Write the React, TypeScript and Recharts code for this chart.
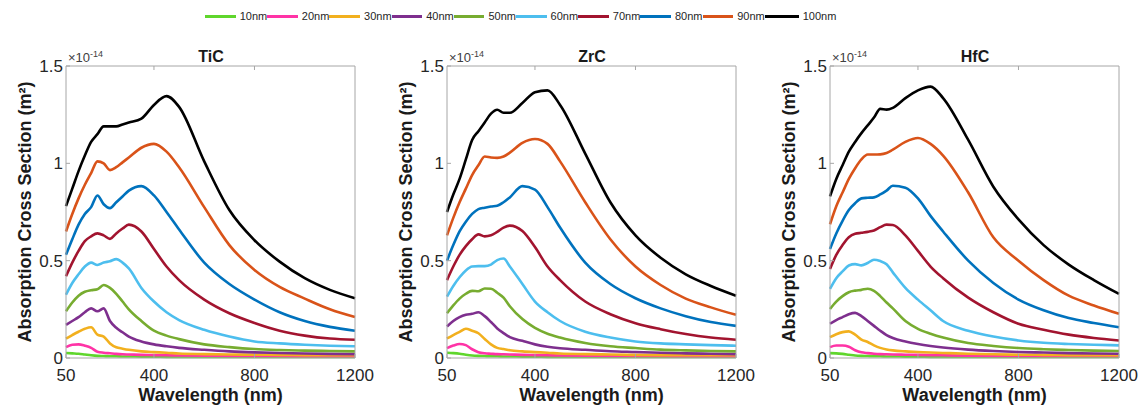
import React from 'react';
import { LineChart, Line, XAxis, YAxis } from 'recharts';

// wavelength grid (nm)
const wavelength = [50, 75, 100, 125, 150, 175, 200, 225, 250, 275, 300, 350, 400, 450, 500, 600, 700, 800, 900, 1000, 1100, 1200];

const sizes = ['10nm', '20nm', '30nm', '40nm', '50nm', '60nm', '70nm', '80nm', '90nm', '100nm'];
const colors = ['#5fd62c', '#ff33a6', '#f2b01e', '#7e2f8e', '#77ac30', '#4dbeee', '#a2142f', '#0072bd', '#d95319', '#000000'];

const xTicks = [50, 400, 800, 1200];
const yTicks = [0, 0.5, 1, 1.5];

// values in units of 1e-14 m^2
// TiC
const tic10 = [0.026, 0.024, 0.022, 0.018, 0.014, 0.011, 0.01, 0.009, 0.009, 0.008, 0.008, 0.007, 0.007, 0.006, 0.006, 0.006, 0.005, 0.005, 0.005, 0.005, 0.005, 0.005];
const tic20 = [0.056, 0.068, 0.07, 0.063, 0.052, 0.032, 0.027, 0.024, 0.021, 0.019, 0.018, 0.016, 0.015, 0.014, 0.013, 0.012, 0.011, 0.01, 0.01, 0.009, 0.009, 0.009];
const tic30 = [0.1, 0.118, 0.135, 0.15, 0.158, 0.12, 0.11, 0.075, 0.055, 0.048, 0.042, 0.034, 0.03, 0.027, 0.023, 0.02, 0.018, 0.017, 0.016, 0.015, 0.014, 0.014];
const tic40 = [0.17, 0.19, 0.21, 0.235, 0.255, 0.24, 0.255, 0.19, 0.155, 0.132, 0.11, 0.085, 0.07, 0.06, 0.052, 0.042, 0.034, 0.029, 0.026, 0.023, 0.021, 0.02];
const tic50 = [0.24, 0.285, 0.32, 0.34, 0.348, 0.353, 0.375, 0.36, 0.33, 0.29, 0.25, 0.19, 0.14, 0.115, 0.097, 0.07, 0.056, 0.046, 0.041, 0.038, 0.036, 0.034];
const tic60 = [0.325, 0.385, 0.43, 0.47, 0.49, 0.478, 0.49, 0.497, 0.508, 0.49, 0.46, 0.36, 0.29, 0.235, 0.195, 0.145, 0.11, 0.085, 0.075, 0.068, 0.063, 0.06];
const tic70 = [0.42, 0.49, 0.55, 0.6, 0.625, 0.64, 0.63, 0.612, 0.64, 0.665, 0.685, 0.65, 0.56, 0.47, 0.4, 0.3, 0.23, 0.18, 0.14, 0.115, 0.1, 0.094];
const tic80 = [0.53, 0.61, 0.685, 0.74, 0.775, 0.835, 0.79, 0.77, 0.8, 0.83, 0.86, 0.883, 0.835, 0.75, 0.66, 0.49, 0.38, 0.3, 0.235, 0.19, 0.16, 0.14];
const tic90 = [0.65, 0.74, 0.82, 0.89, 0.95, 1.01, 1.0, 0.965, 0.98, 1.005, 1.03, 1.08, 1.1, 1.06, 0.98, 0.775, 0.58, 0.452, 0.365, 0.305, 0.25, 0.21];
const tic100 = [0.78, 0.87, 0.96, 1.04, 1.11, 1.15, 1.19, 1.19, 1.19, 1.2, 1.21, 1.23, 1.3, 1.345, 1.29, 1.01, 0.76, 0.605, 0.495, 0.41, 0.35, 0.307];

// ZrC
const zrc10 = [0.027, 0.025, 0.022, 0.017, 0.013, 0.011, 0.01, 0.009, 0.009, 0.008, 0.008, 0.007, 0.007, 0.006, 0.006, 0.006, 0.005, 0.005, 0.005, 0.005, 0.005, 0.005];
const zrc20 = [0.051, 0.064, 0.072, 0.066, 0.045, 0.03, 0.024, 0.022, 0.02, 0.019, 0.018, 0.016, 0.015, 0.014, 0.013, 0.012, 0.011, 0.01, 0.01, 0.009, 0.009, 0.009];
const zrc30 = [0.1, 0.118, 0.134, 0.15, 0.14, 0.127, 0.098, 0.07, 0.052, 0.046, 0.04, 0.034, 0.03, 0.027, 0.023, 0.02, 0.018, 0.016, 0.015, 0.015, 0.014, 0.014];
const zrc40 = [0.162, 0.19, 0.21, 0.222, 0.227, 0.235, 0.215, 0.185, 0.152, 0.128, 0.107, 0.088, 0.07, 0.058, 0.05, 0.042, 0.035, 0.031, 0.027, 0.024, 0.022, 0.02];
const zrc50 = [0.23, 0.27, 0.305, 0.33, 0.345, 0.343, 0.357, 0.356, 0.335, 0.31, 0.266, 0.2, 0.155, 0.125, 0.105, 0.077, 0.06, 0.051, 0.043, 0.039, 0.036, 0.034];
const zrc60 = [0.315, 0.37, 0.415, 0.45, 0.47, 0.472, 0.472, 0.48, 0.503, 0.511, 0.47, 0.38, 0.29, 0.235, 0.19, 0.135, 0.105, 0.085, 0.075, 0.07, 0.066, 0.063];
const zrc70 = [0.4, 0.47, 0.53, 0.575, 0.61, 0.635, 0.625, 0.63, 0.648, 0.67, 0.68, 0.652, 0.57, 0.47, 0.4, 0.29, 0.225, 0.179, 0.148, 0.123, 0.105, 0.094];
const zrc80 = [0.5, 0.58, 0.65, 0.7, 0.74, 0.765, 0.772, 0.778, 0.782, 0.8, 0.825, 0.883, 0.865, 0.775, 0.67, 0.49, 0.38, 0.307, 0.255, 0.215, 0.185, 0.165];
const zrc90 = [0.63, 0.72, 0.8, 0.87, 0.94, 0.99, 1.035, 1.03, 1.028, 1.035, 1.055, 1.105, 1.125, 1.1, 1.01, 0.8, 0.61, 0.47, 0.375, 0.305, 0.26, 0.222];
const zrc100 = [0.75, 0.84, 0.92, 1.02, 1.12, 1.165, 1.21, 1.255, 1.275, 1.26, 1.26, 1.31, 1.365, 1.375, 1.3, 1.05, 0.8, 0.63, 0.515, 0.43, 0.37, 0.32];

// HfC
const hfc10 = [0.025, 0.024, 0.021, 0.017, 0.013, 0.011, 0.01, 0.009, 0.009, 0.008, 0.008, 0.007, 0.007, 0.006, 0.006, 0.006, 0.005, 0.005, 0.005, 0.005, 0.005, 0.005];
const hfc20 = [0.056, 0.064, 0.064, 0.058, 0.04, 0.029, 0.025, 0.022, 0.02, 0.019, 0.018, 0.017, 0.016, 0.015, 0.014, 0.012, 0.011, 0.011, 0.01, 0.01, 0.01, 0.01];
const hfc30 = [0.107, 0.122, 0.133, 0.137, 0.12, 0.095, 0.082, 0.065, 0.052, 0.044, 0.039, 0.034, 0.031, 0.028, 0.026, 0.022, 0.019, 0.017, 0.016, 0.015, 0.014, 0.014];
const hfc40 = [0.176, 0.195, 0.21, 0.225, 0.232, 0.215, 0.19, 0.165, 0.14, 0.118, 0.103, 0.085, 0.072, 0.062, 0.054, 0.043, 0.036, 0.031, 0.028, 0.025, 0.023, 0.022];
const hfc50 = [0.252, 0.29, 0.318, 0.338, 0.346, 0.35, 0.356, 0.345, 0.318, 0.285, 0.255, 0.19, 0.15, 0.125, 0.105, 0.077, 0.062, 0.051, 0.045, 0.041, 0.038, 0.036];
const hfc60 = [0.355, 0.41, 0.445, 0.475, 0.482, 0.476, 0.488, 0.505, 0.498, 0.482, 0.44, 0.36, 0.3, 0.245, 0.19, 0.14, 0.11, 0.09, 0.078, 0.072, 0.068, 0.065];
const hfc70 = [0.457, 0.53, 0.58, 0.62, 0.638, 0.643, 0.648, 0.655, 0.672, 0.685, 0.683, 0.63, 0.55, 0.47, 0.41, 0.31, 0.235, 0.176, 0.145, 0.12, 0.103, 0.09];
const hfc80 = [0.56, 0.64, 0.705, 0.76, 0.795, 0.82, 0.823, 0.825, 0.84, 0.86, 0.885, 0.875, 0.82, 0.73, 0.65, 0.5, 0.385, 0.3, 0.245, 0.205, 0.18, 0.158];
const hfc90 = [0.687, 0.78, 0.85, 0.92, 0.975, 1.02, 1.045, 1.045, 1.046, 1.053, 1.07, 1.11, 1.13, 1.1, 1.04, 0.85, 0.62, 0.5, 0.4, 0.32, 0.27, 0.227];
const hfc100 = [0.83, 0.92, 0.99, 1.06, 1.11, 1.155, 1.195, 1.235, 1.28, 1.276, 1.285, 1.335, 1.375, 1.394, 1.335, 1.12, 0.88, 0.712, 0.58, 0.48, 0.4, 0.329];

const ticRows = [tic10, tic20, tic30, tic40, tic50, tic60, tic70, tic80, tic90, tic100];
const zrcRows = [zrc10, zrc20, zrc30, zrc40, zrc50, zrc60, zrc70, zrc80, zrc90, zrc100];
const hfcRows = [hfc10, hfc20, hfc30, hfc40, hfc50, hfc60, hfc70, hfc80, hfc90, hfc100];

const FONT = 'Arial, "Liberation Sans", sans-serif';
const BOX = '#a6a6a6';
const TXT = '#262626';
const axisLine = { stroke: BOX, strokeWidth: 1 };

const buildData = (rows: number[][]) =>
  wavelength.map((w, i) => {
    const o: any = { w };
    sizes.forEach((s, k) => (o[s] = rows[k][i]));
    return o;
  });

const BottomTick = (p: any) => (
  <g>
    <line x1={p.x} y1={p.y} x2={p.x} y2={p.y - 4} stroke={BOX} />
    <text x={p.x} y={p.y + 23} textAnchor="middle" fontSize={17} fill={TXT} fontFamily={FONT}>
      {p.payload.value}
    </text>
  </g>
);

const LeftTick = (p: any) => (
  <g>
    <line x1={p.x} y1={p.y} x2={p.x + 4} y2={p.y} stroke={BOX} />
    <text x={p.x - 3} y={p.y} dy="0.35em" textAnchor="end" fontSize={17} fill={TXT} fontFamily={FONT}>
      {p.payload.value}
    </text>
  </g>
);

const TopTick = (p: any) => <line x1={p.x} y1={p.y} x2={p.x} y2={p.y + 4} stroke={BOX} />;
const RightTick = (p: any) => <line x1={p.x} y1={p.y} x2={p.x - 4} y2={p.y} stroke={BOX} />;

const Panel = ({ title, rows, left }: { title: string; rows: number[][]; left: number }) => {
  const data = buildData(rows);
  return (
    <div style={{ position: 'absolute', left, top: 0, width: 380, height: 408 }}>
      <LineChart width={380} height={408} data={data} margin={{ top: 65, right: 24, bottom: 0, left: 0 }}>
        <XAxis
          dataKey="w"
          type="number"
          domain={[50, 1200]}
          ticks={xTicks}
          height={50}
          tickLine={false}
          tickSize={0}
          tickMargin={0}
          tick={<BottomTick />}
          axisLine={axisLine}
          label={{ value: 'Wavelength (nm)', position: 'insideBottom', offset: 7, fontSize: 18, fontWeight: 'bold', fill: '#1a1a1a', fontFamily: FONT }}
        />
        <XAxis
          xAxisId="top"
          orientation="top"
          dataKey="w"
          type="number"
          domain={[50, 1200]}
          ticks={[400, 800]}
          height={1}
          tickLine={false}
          tickSize={0}
          tickMargin={0}
          tick={<TopTick />}
          axisLine={axisLine}
        />
        <YAxis
          type="number"
          domain={[0, 1.5]}
          ticks={yTicks}
          width={66}
          tickLine={false}
          tickSize={0}
          tickMargin={0}
          tick={<LeftTick />}
          axisLine={axisLine}
          label={{
            value: 'Absorption Cross Section (m²)',
            angle: -90,
            position: 'insideLeft',
            offset: 25,
            style: { textAnchor: 'middle' },
            fontSize: 18,
            fontWeight: 'bold',
            fill: '#1a1a1a',
            fontFamily: FONT,
          }}
        />
        <YAxis
          yAxisId="right"
          orientation="right"
          type="number"
          domain={[0, 1.5]}
          ticks={[0.5, 1]}
          width={1}
          tickLine={false}
          tickSize={0}
          tickMargin={0}
          tick={<RightTick />}
          axisLine={axisLine}
        />
        {sizes.map((s, k) => (
          <Line
            key={s}
            dataKey={s}
            type="monotone"
            stroke={colors[k]}
            strokeWidth={2.6}
            dot={false}
            isAnimationActive={false}
          />
        ))}
      </LineChart>
      <div
        style={{
          position: 'absolute',
          left: 0,
          width: 422,
          top: 48,
          textAlign: 'center',
          fontFamily: FONT,
          fontWeight: 'bold',
          fontSize: 16,
          color: '#1a1a1a',
        }}
      >
        {title}
      </div>
      <div style={{ position: 'absolute', left: 68, top: 49, fontFamily: FONT, fontSize: 13, color: '#404040' }}>
        ×10<sup style={{ fontSize: 9 }}>-14</sup>
      </div>
    </div>
  );
};

const LegendBar = () => (
  <div style={{ position: 'absolute', left: 205, top: 10, display: 'flex', fontFamily: FONT, fontSize: 11, color: '#262626' }}>
    {sizes.map((s, k) => (
      <div key={s} style={{ display: 'flex', alignItems: 'center', width: s === '100nm' ? 72 : 62.2 }}>
        <div style={{ width: 34, height: 3, background: colors[k], marginRight: 4 }} />
        <span>{s}</span>
      </div>
    ))}
  </div>
);

export default function App() {
  return (
    <div style={{ position: 'absolute', left: 0, top: 0, width: 1139, height: 408, background: '#fff', overflow: 'hidden' }}>
      <LegendBar />
      <Panel title="TiC" rows={ticRows} left={0} />
      <Panel title="ZrC" rows={zrcRows} left={381} />
      <Panel title="HfC" rows={hfcRows} left={764} />
    </div>
  );
}
